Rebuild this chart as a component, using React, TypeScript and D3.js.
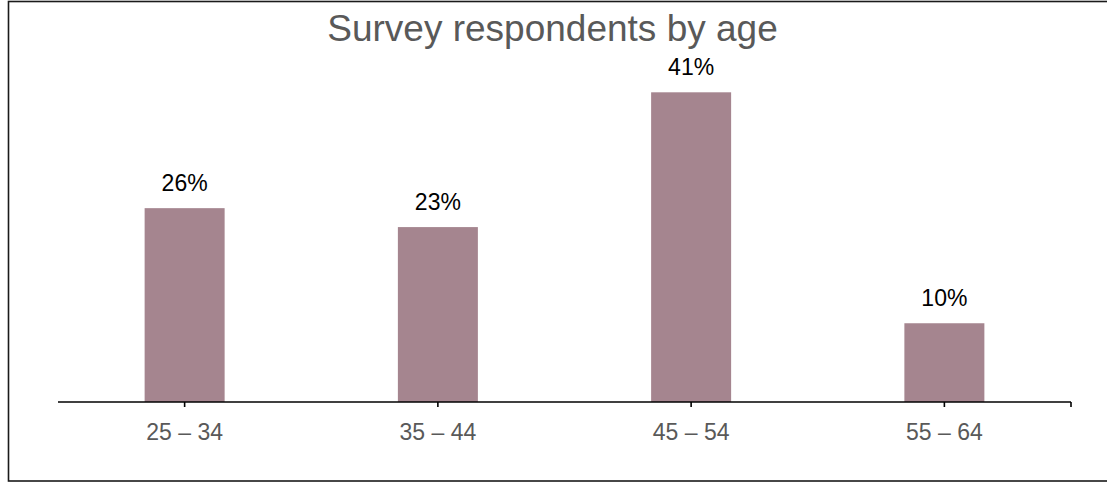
import React from "react";
import * as d3 from "d3";

const categories = ["25 – 34", "35 – 44", "45 – 54", "55 – 64"];
const values = [25.6, 23.1, 40.9, 10.4];
const valueLabels = ["26%", "23%", "41%", "10%"];
const title = "Survey respondents by age";

const W = 1107;
const H = 482;
const FONT = "'Liberation Sans', Arial, sans-serif";

export default function App() {
  const x0 = 58;
  const x1 = 1071;
  const baseY = 402;
  const x = d3.scaleBand<string>().domain(categories).range([x0, x1]).paddingInner(0.6841).paddingOuter(0.34205);
  const y = d3.scaleLinear().domain([0, 45]).range([baseY, baseY - 45 * 7.572]);
  const ticks = categories.map((c) => (x(c) as number) + x.bandwidth() / 2);

  return (
    <svg
      width={W}
      height={H}
      style={{ position: "absolute", left: 0, top: 0, background: "#fff" }}
      fontFamily={FONT}
    >
      <rect x={8.5} y={1.5} width={1110} height={479.5} fill="#fff" stroke="#1a1a1a" strokeWidth={1.6} />
      <text x={552.5} y={41} textAnchor="middle" fontSize={37} fill="#595959">
        {title}
      </text>
      {categories.map((c, i) => (
        <g key={c}>
          <rect
            x={x(c)}
            y={y(values[i])}
            width={x.bandwidth()}
            height={baseY - y(values[i])}
            fill="#a5858f"
          />
          <text
            x={(x(c) as number) + x.bandwidth() / 2}
            y={y(values[i]) - 17}
            textAnchor="middle"
            fontSize={23}
            fill="#000"
          >
            {valueLabels[i]}
          </text>
          <text
            x={(x(c) as number) + x.bandwidth() / 2}
            y={440}
            textAnchor="middle"
            fontSize={23}
            fill="#595959"
          >
            {c}
          </text>
        </g>
      ))}
      <line x1={x0} x2={x1} y1={baseY} y2={baseY} stroke="#000" strokeWidth={1.6} />
      {[...ticks, x1].map((t, i) => (
        <line key={i} x1={t} x2={t} y1={baseY} y2={baseY + 5} stroke="#000" strokeWidth={1.6} />
      ))}
    </svg>
  );
}
